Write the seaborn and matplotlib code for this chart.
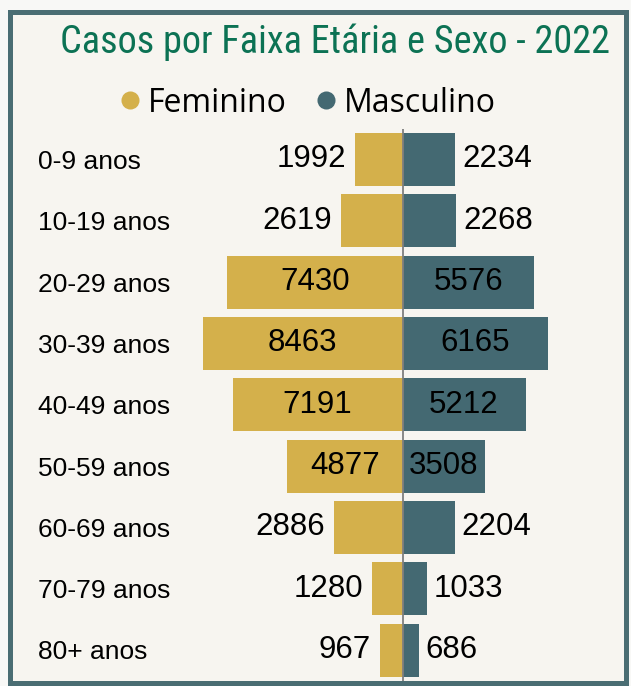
import matplotlib
matplotlib.use("Agg")
import matplotlib.pyplot as plt
import matplotlib.transforms as mtransforms
from matplotlib.lines import Line2D
from matplotlib.patches import Rectangle
import pandas as pd
import seaborn as sns

# data
faixas = ["0-9 anos", "10-19 anos", "20-29 anos", "30-39 anos", "40-49 anos",
          "50-59 anos", "60-69 anos", "70-79 anos", "80+ anos"]
feminino = [1992, 2619, 7430, 8463, 7191, 4877, 2886, 1280, 967]
masculino = [2234, 2268, 5576, 6165, 5212, 3508, 2204, 1033, 686]

COR_F = "#D4B04B"
COR_M = "#446972"
FUNDO = "#F7F5F0"
BORDA = "#4A6D73"

df = pd.concat([
    pd.DataFrame({"faixa": faixas, "valor": [-v for v in feminino], "sexo": "Feminino"}),
    pd.DataFrame({"faixa": faixas, "valor": masculino, "sexo": "Masculino"}),
])

sns.set_theme(style="white")
plt.rcParams["font.family"] = ["Liberation Sans", "DejaVu Sans"]
plt.rcParams["text.color"] = "black"

W, H = 631, 686
fig = plt.figure(figsize=(W / 100, H / 100), dpi=100, facecolor="#F8F8F6")
fig.patches.append(Rectangle((10 / W, 1 - 683 / H), 616 / W, 671 / H,
                             transform=fig.transFigure, facecolor=FUNDO,
                             edgecolor=BORDA, linewidth=3.6, zorder=-10))

ax = fig.add_axes([190.5 / W, 1 - 680.7 / H, 424 / W, 551.9 / H])
ax.set_zorder(2)
ax.set_facecolor("none")
sns.barplot(data=df, x="valor", y="faixa", hue="sexo", order=faixas,
            palette={"Feminino": COR_F, "Masculino": COR_M},
            dodge=False, width=0.865, orient="h", ax=ax, legend=False,
            saturation=1, linewidth=0)
ax.set_xlim(-8983, 8983)
ax.set_ylim(8.5, -0.5)
ax.axvline(0, color="#7F7F7F", linewidth=1.3, zorder=5)
ax.set_axis_off()

# value labels: inside the bar when it fits, outside otherwise
for i, (f, m) in enumerate(zip(feminino, masculino)):
    if f >= 3500:
        ax.text(-f / 2, i, str(f), ha="center", va="center", fontsize=22.5)
    else:
        ax.text(-f - 380, i, str(f), ha="right", va="center", fontsize=22.5)
    if m >= 3500:
        ax.text(m / 2, i, str(m), ha="center", va="center", fontsize=22.5)
    else:
        ax.text(m + 300, i, str(m), ha="left", va="center", fontsize=22.5)

# category labels, left aligned
trans = mtransforms.blended_transform_factory(fig.transFigure, ax.transData)
for i, nome in enumerate(faixas):
    ax.text(38 / W, i + 0.04, nome, transform=trans, ha="left", va="center",
            fontsize=19)

fig.text(60 / W, 1 - 42 / H, "Casos por Faixa Etária e Sexo - 2022",
         ha="left", va="center", fontsize=27.5, color="#0C7254",
         family=["Liberation Sans Narrow", "Roboto Condensed",
                 "Noto Sans Condensed", "DejaVu Sans"])

handles = [Line2D([], [], marker="o", linestyle="", markersize=13,
                  markerfacecolor=c, markeredgewidth=0) for c in (COR_F, COR_M)]
fig.legend(handles, ["Feminino", "Masculino"], loc="center",
           bbox_to_anchor=(305 / W, 1 - 103 / H), ncol=2, frameon=False,
           handletextpad=0.05, columnspacing=0.75, handlelength=1.0,
           labelcolor="black", prop={"family": "Open Sans", "size": 23})

fig.savefig("out.png", dpi=100, facecolor=fig.get_facecolor())
